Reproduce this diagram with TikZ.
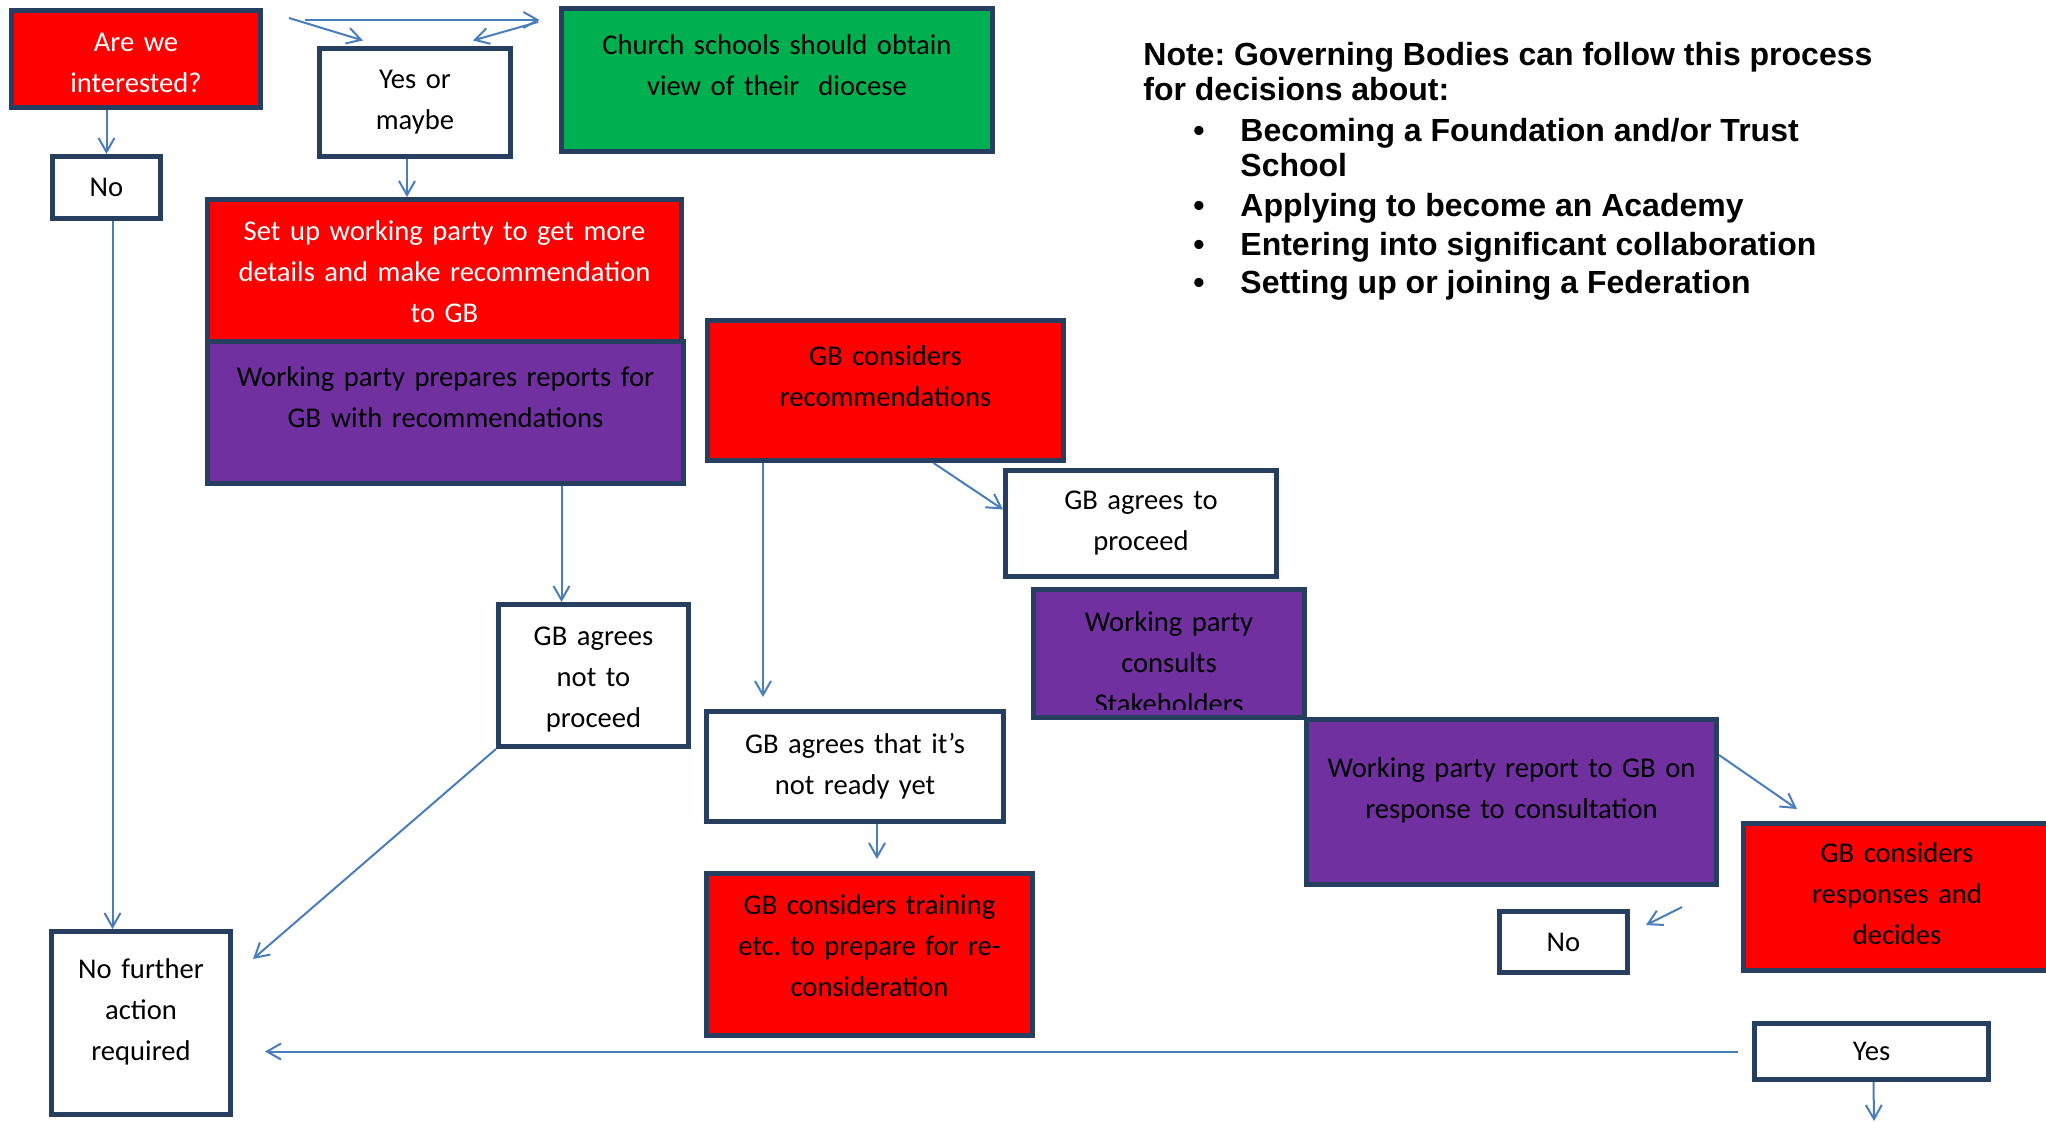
\documentclass[tikz,border=0pt]{standalone}
\usepackage{fontspec}
\setmainfont{Carlito}
\newfontfamily\notefont{Liberation Sans}
\usetikzlibrary{arrows.meta}
\definecolor{boxred}{HTML}{FF0000}
\definecolor{boxpurple}{HTML}{7030A0}
\definecolor{boxgreen}{HTML}{00B050}
\definecolor{boxline}{HTML}{263F61}
\definecolor{linkblue}{HTML}{4A7EBB}
\frenchspacing
\begin{document}
\begin{tikzpicture}[x=0.5pt, y=-0.5pt,
    box/.style={draw=boxline, line width=2.5pt, inner sep=0pt, align=center, font=\fontsize{14.3}{20.5}\selectfont},
    boxsize/.style 2 args={minimum width=#1, text width=#1, minimum height=#2},
    redbox/.style={box, fill=boxred},
    purplebox/.style={box, fill=boxpurple},
    greenbox/.style={box, fill=boxgreen},
    whitebox/.style={box, fill=white},
    lift/.style={execute at end node={\endgraf\vspace*{#1}}},
    link/.style={draw=linkblue, line width=1pt, -{Straight Barb[length=7pt, width=8pt]}},
    note/.style={font=\notefont\bfseries\fontsize{16}{17.5}\selectfont, inner sep=0pt, anchor=base west}]
    \path[use as bounding box, fill=white] (0, 0) rectangle (2046, 1122);

    % boxes
    \node[redbox, text=white, boxsize={124.5pt}{48.5pt}, lift=-4pt] (interested) at (136, 59) {Are we\\interested?};
    \node[whitebox, boxsize={95.5pt}{54pt}] (yesmaybe) at (415, 102.5) {Yes or\\maybe};
    \node[greenbox, boxsize={215.5pt}{71.5pt}, lift=15pt] (diocese) at (777, 80) {Church schools should obtain\\view of their~ diocese};
    \node[whitebox, boxsize={54pt}{31pt}] (no1) at (106.5, 187.5) {No};
    \node[redbox, text=white, boxsize={237pt}{72.5pt}] (setup) at (444.5, 272) {Set up working party to get more\\details and make recommendation\\to GB};
    \node[purplebox, boxsize={238pt}{71pt}, lift=15pt] (prepare) at (445.5, 412.5) {Working party prepares reports for\\GB with recommendations};
    \node[redbox, boxsize={178pt}{70pt}, lift=14pt] (consider) at (885.5, 390.5) {GB considers\\recommendations};
    \node[whitebox, boxsize={135.5pt}{53pt}] (proceed) at (1141, 523.5) {GB agrees to\\proceed};
    \node[purplebox, boxsize={135.5pt}{64pt}] (consult) at (1169, 653.5) {};
    \begin{scope}
        \clip (consult.north west) rectangle ([yshift=5pt]consult.south east);
        \node[box, draw=none, text width=135.5pt] (consulttext) at ([yshift=-4.5pt]consult.center) {Working party\\consults\\Stakeholders};
    \end{scope}
    \node[purplebox, boxsize={205pt}{82.5pt}, lift=12pt] (report) at (1511.5, 802) {Working party report to GB on\\response to consultation};
    \node[redbox, boxsize={153.5pt}{73.5pt}, lift=3pt] (responses) at (1897, 897) {GB considers\\responses and\\decides};
    \node[whitebox, boxsize={64pt}{30.5pt}] (no2) at (1563.5, 942) {No};
    \node[whitebox, boxsize={117pt}{28pt}, lift=-4pt] (yes) at (1871.5, 1051.5) {Yes};
    \node[whitebox, boxsize={89.5pt}{91.5pt}, lift=11pt] (nofurther) at (141, 1023) {No further\\action\\required};
    \node[whitebox, boxsize={95pt}{71pt}, lift=-4pt] (notproceed) at (593.5, 675.5) {GB agrees\\not to\\proceed};
    \node[whitebox, boxsize={148.5pt}{55pt}] (notready) at (855, 766.5) {GB agrees that it’s\\not ready yet};
    \node[redbox, boxsize={163pt}{81pt}, lift=9pt] (training) at (869.5, 954.5) {GB considers training\\etc. to prepare for re-\\consideration};

    % note
    \node[note] (note1) at (1143, 65.5) {Note: Governing Bodies can follow this process};
    \node[note] (note2) at (1143, 100.5) {for decisions about:};
    \node[note] (dot1) at (1193, 141.5) {•};
    \node[note] (item1) at (1240, 141.5) {Becoming a Foundation and/or Trust};
    \node[note] (item1b) at (1240, 177) {School};
    \node[note] (dot2) at (1193, 216.5) {•};
    \node[note] (item2) at (1240, 216.5) {Applying to become an Academy};
    \node[note] (dot3) at (1193, 255.5) {•};
    \node[note] (item3) at (1240, 255.5) {Entering into significant collaboration};
    \node[note] (dot4) at (1193, 294) {•};
    \node[note] (item4) at (1240, 294) {Setting up or joining a Federation};

    % arrows
    \coordinate (topleft) at (289, 18);
    \coordinate (topmid) at (305, 20);
    \coordinate (topright) at (538, 22);
    \coordinate (nofrom) at (1682, 907);
    \coordinate (yesout) at (1874, 1121);
    \draw[link] (topleft) -- ([xshift=-26pt, yshift=2.75pt]yesmaybe.north);
    \draw[link] (topmid) -- ([xshift=-9.75pt]diocese.west |- topmid);
    \draw[link] (topright) -- ([xshift=29pt, yshift=2.75pt]yesmaybe.north);
    \draw[link] (no1.north |- interested.south) -- (no1.north);
    \draw[link] ([xshift=-4pt]yesmaybe.south) -- ([xshift=-4pt]yesmaybe.south |- setup.north);
    \draw[link] ([xshift=3pt]no1.south) -- ([xshift=3pt]no1.south |- nofurther.north);
    \draw[link] ([xshift=-16pt]notproceed.north |- prepare.south) -- ([xshift=-16pt]notproceed.north);
    \draw[link] ([xshift=-46pt]notready.north |- consider.south) -- ([xshift=-46pt, yshift=6pt]notready.north);
    \draw[link] ([xshift=24pt]consider.south) -- ([yshift=7pt]proceed.west);
    \draw[link] (notproceed.south west) -- ([xshift=10pt, yshift=-15pt]nofurther.north east);
    \draw[link] ([xshift=11pt]notready.south) -- ([xshift=11pt, yshift=6pt]notready.south |- training.north);
    \draw[link] ([yshift=23.5pt]report.east) -- ([xshift=28pt, yshift=6pt]responses.north west);
    \draw[link] (nofrom) -- ([xshift=8pt, yshift=-8pt]no2.north east);
    \draw[link] ([xshift=-7pt]yes.west) -- ([xshift=16pt]nofurther.east |- yes.west);
    \draw[link] ([xshift=1pt]yes.south) -- (yesout);
\end{tikzpicture}
\end{document}
